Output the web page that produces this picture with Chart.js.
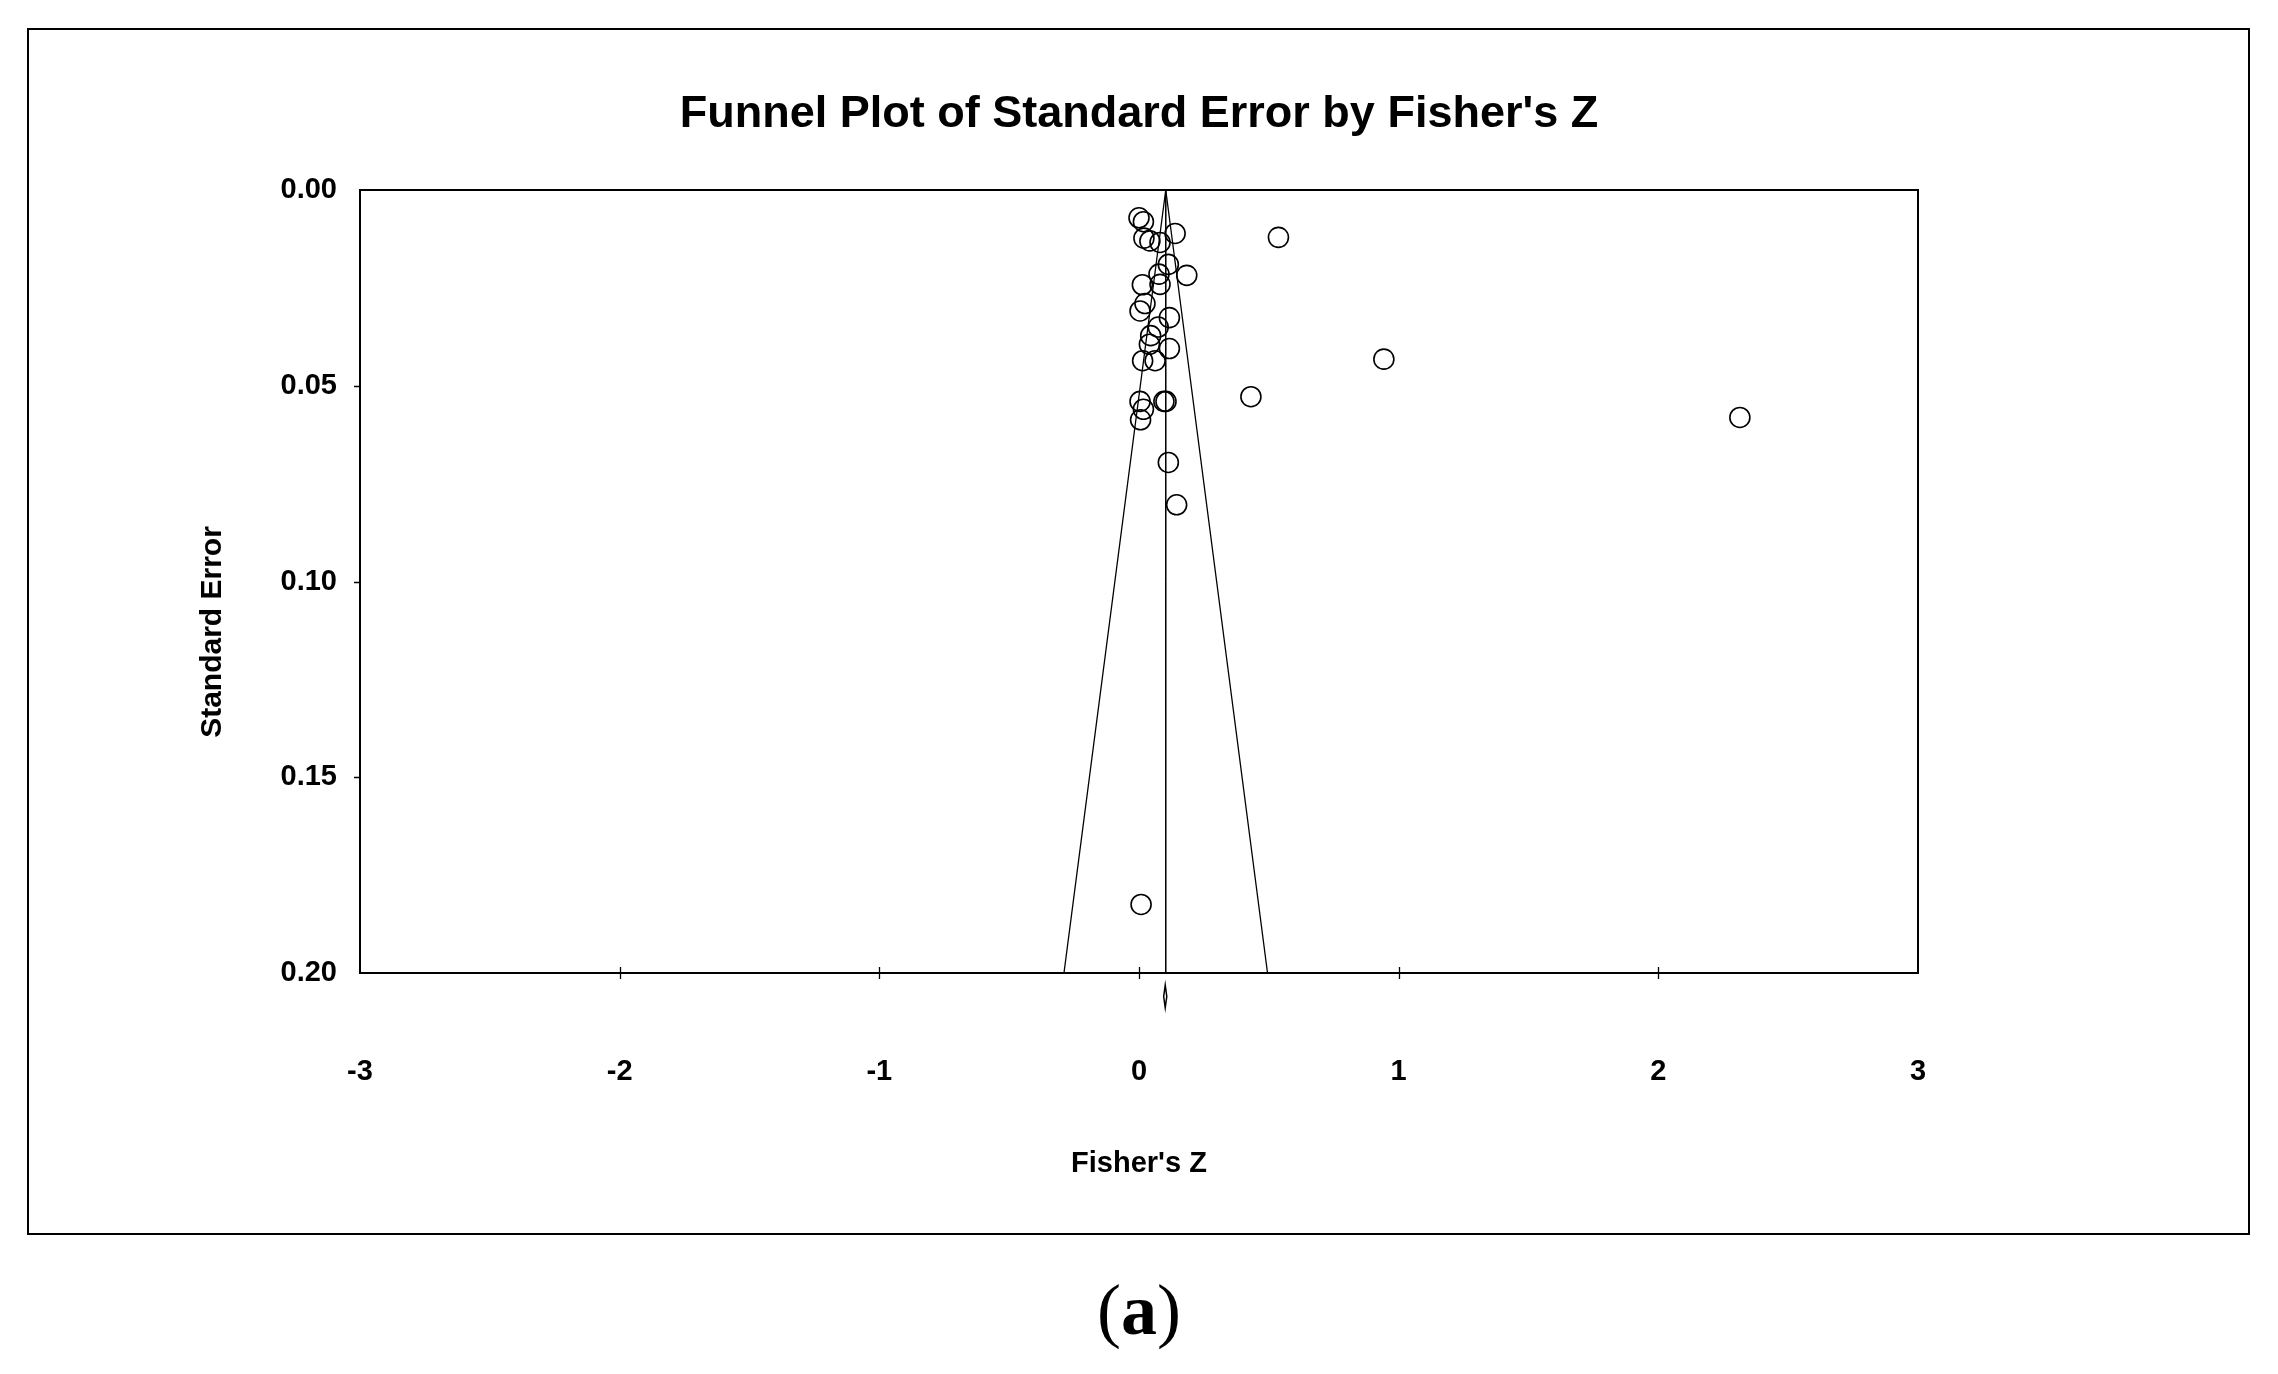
<!DOCTYPE html>
<html>
<head>
  <meta charset="UTF-8">
  <title>Funnel Plot of Standard Error by Fisher's Z</title>
  <script src="https://cdn.jsdelivr.net/npm/chart.js"></script>
  <style>
    body { margin: 0; background: #fff; }
    #wrap { position: relative; width: 2278px; height: 1374px; }
    #chartBox { position: absolute; left: 0; top: 0; width: 2278px; height: 1374px; }
    #frame { position: absolute; left: 27px; top: 28px; width: 2219px; height: 1203px; border: 2px solid #000; }
    #caption { position: absolute; left: 0; top: 1270px; width: 2278px; text-align: center;
               font: 72px/80px "Liberation Serif", "Times New Roman", serif; color: #000; }
  </style>
</head>
<body>
  <div id="wrap">
    <div id="frame"></div>
    <div id="chartBox"><canvas id="funnelChart"></canvas></div>
    <div id="caption">(<b>a</b>)</div>
  </div>

  <script>
    // study points
    const fisherZ = [0.000, 0.017, 0.139, 0.019, 0.042, 0.081, 0.113, 0.184, 0.077, 0.081,
                     0.013, 0.023, 0.004, 0.117, 0.074, 0.045, 0.040, 0.117, 0.014, 0.062,
                     0.004, 0.017, 0.006, 0.096, 0.104, 0.113, 0.145, 0.537, 0.943, 0.431,
                     2.314, 0.008];
    const stdError = [0.0071, 0.0081, 0.0111, 0.0123, 0.0130, 0.0134, 0.0190, 0.0218, 0.0215, 0.0241,
                      0.0242, 0.0290, 0.0309, 0.0326, 0.0350, 0.0372, 0.0394, 0.0405, 0.0436, 0.0436,
                      0.0540, 0.0560, 0.0587, 0.0540, 0.0540, 0.0696, 0.0804, 0.0121, 0.0432, 0.0528,
                      0.0581, 0.1825];

    // funnel (pseudo 95% limits), combined effect line and diamond
    const funnelZ = [-0.289, 0.103, 0.495];
    const funnelSE = [0.20, 0.00, 0.20];
    const meanZ = [0.103, 0.103];
    const meanSE = [0.00, 0.20];
    const diamondZ = [0.095, 0.101, 0.107, 0.101, 0.095];
    const diamondSE = [0.2060, 0.2031, 0.2060, 0.2089, 0.2060];

    const xRange = [-3, 3];
    const yRange = [0, 0.20];

    const pairs = (xs, ys) => xs.map((x, i) => ({ x: x, y: ys[i] }));

    const fontFamily = '"Liberation Sans", Arial, sans-serif';
    const tickFont = { family: fontFamily, size: 29, weight: 'bold' };

    // box round the plot, cross ticks on x, small ticks on y, y title
    const framePlugin = {
      id: 'frame',
      afterDraw(chart) {
        const { ctx, chartArea: a, scales } = chart;
        const x = scales.x, y = scales.y;
        ctx.save();
        ctx.strokeStyle = '#000';
        ctx.lineWidth = 2;
        ctx.strokeRect(a.left, a.top, a.right - a.left, a.bottom - a.top);
        ctx.lineWidth = 1.3;
        ctx.beginPath();
        x.ticks.forEach((t, i) => {
          if (i === 0 || i === x.ticks.length - 1) return;
          const px = Math.round(x.getPixelForValue(t.value)) + 0.5;
          ctx.moveTo(px, a.bottom - 6);
          ctx.lineTo(px, a.bottom + 6);
        });
        y.ticks.forEach((t, i) => {
          if (i === 0 || i === y.ticks.length - 1) return;
          const py = Math.round(y.getPixelForValue(t.value)) + 0.5;
          ctx.moveTo(a.left - 6, py);
          ctx.lineTo(a.left, py);
        });
        ctx.stroke();

        ctx.font = 'bold 30px ' + fontFamily;
        ctx.fillStyle = '#000';
        ctx.textAlign = 'center';
        ctx.textBaseline = 'middle';
        ctx.translate(213, 632);
        ctx.rotate(-Math.PI / 2);
        ctx.fillText('Standard Error', 0, 0);
        ctx.restore();
      }
    };

    const ctx = document.getElementById('funnelChart').getContext('2d');

    new Chart(ctx, {
      type: 'scatter',
      data: {
        datasets: [
          {
            label: 'Studies',
            data: pairs(fisherZ, stdError),
            pointStyle: 'circle',
            pointRadius: 10,
            pointBorderWidth: 1.6,
            pointBackgroundColor: 'rgba(0,0,0,0)',
            pointBorderColor: '#000'
          },
          {
            label: 'Funnel',
            data: pairs(funnelZ, funnelSE),
            showLine: true,
            borderColor: '#000',
            borderWidth: 1.3,
            pointRadius: 0
          },
          {
            label: 'Mean',
            data: pairs(meanZ, meanSE),
            showLine: true,
            borderColor: '#000',
            borderWidth: 1,
            pointRadius: 0
          },
          {
            label: 'Combined',
            data: pairs(diamondZ, diamondSE),
            showLine: true,
            borderColor: '#000',
            borderWidth: 1.5,
            pointRadius: 0,
            clip: false
          }
        ]
      },
      options: {
        responsive: true,
        maintainAspectRatio: false,
        animation: false,
        layout: { padding: 0 },
        scales: {
          x: {
            type: 'linear',
            position: 'bottom',
            min: xRange[0],
            max: xRange[1],
            ticks: { stepSize: 1, color: '#000', font: tickFont, padding: 82, maxRotation: 0 },
            grid: { display: false, drawTicks: false },
            border: { display: false },
            title: {
              display: true,
              text: "Fisher's Z",
              color: '#000',
              font: { family: fontFamily, size: 29, weight: 'bold' },
              padding: { top: 0, bottom: 193 }
            },
            afterFit(scale) { scale.height = 401; }
          },
          y: {
            type: 'linear',
            reverse: true,
            min: yRange[0],
            max: yRange[1],
            ticks: {
              stepSize: 0.05,
              color: '#000',
              font: tickFont,
              padding: 23,
              callback: v => Number(v).toFixed(2)
            },
            grid: { display: false, drawTicks: false },
            border: { display: false },
            afterFit(scale) { scale.width = 360; }
          },
          // empty right-hand axis, only keeps the plot box off the right side
          yRight: {
            type: 'linear',
            position: 'right',
            ticks: { display: false },
            grid: { display: false, drawTicks: false },
            border: { display: false },
            afterFit(scale) { scale.width = 360; }
          }
        },
        plugins: {
          legend: { display: false },
          tooltip: { enabled: false },
          title: {
            display: true,
            text: "Funnel Plot of Standard Error by Fisher's Z",
            color: '#000',
            font: { family: fontFamily, size: 45, weight: 'bold', lineHeight: 1.2 },
            padding: { top: 88, bottom: 48 }
          }
        }
      },
      plugins: [framePlugin]
    });
  </script>
</body>
</html>
